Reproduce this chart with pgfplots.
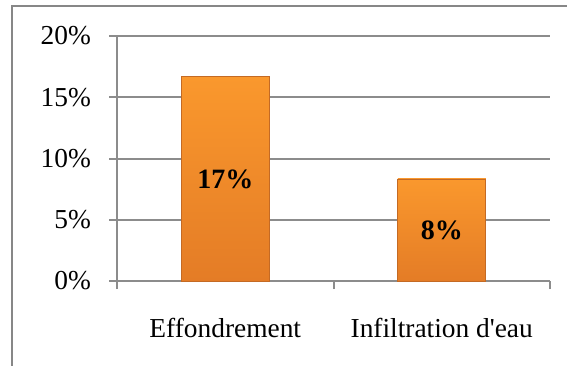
\documentclass[border=0pt]{standalone}
\usepackage{pgfplots}
\pgfplotsset{compat=1.18}
\usepackage{fontspec}
\setmainfont{Liberation Serif}
\definecolor{gridgray}{RGB}{140,140,140}
\definecolor{framegray}{RGB}{135,135,135}
\definecolor{barlight}{RGB}{250,152,45}
\definecolor{bardark}{RGB}{228,124,38}
\definecolor{baredge}{RGB}{196,106,36}

\begin{document}
\begin{tikzpicture}[x=1pt,y=1pt]
\useasboundingbox (0,0) rectangle (283.5,182.5);
% outer chart frame, cut at right and bottom as in the screenshot
\draw[framegray, line width=1.1pt] (6,-5) -- (6,179.5) -- (290,179.5);
\begin{axis}[
    at={(58.5pt,42pt)}, anchor=south west,
    scale only axis,
    width=216.5pt, height=122.5pt,
    xmin=-0.5, xmax=1.5,
    ymin=0, ymax=20,
    axis lines*=left,
    axis line style={gridgray, line width=1pt},
    ytick={0,5,10,15,20},
    yticklabel={\pgfmathprintnumber{\tick}\%},
    ymajorgrids,
    grid style={gridgray, line width=1pt},
    tick align=outside,
    tick style={gridgray, line width=1pt},
    major tick length=4pt,
    xtick={-0.5,0.5,1.5},
    xticklabels={},
    extra x ticks={0,1},
    extra x tick labels={Effondrement, Infiltration d\textquotesingle eau},
    extra x tick style={major tick length=0pt, grid=none,
        tick label style={yshift=-15pt}},
    tick label style={font=\fontsize{13.7}{16}\selectfont},
    yticklabel style={xshift=-5.5pt},
    /pgf/number format/assume math mode=true,
    clip=false,
]
\addplot[ybar, bar width=44pt, bar shift=0pt,
    top color=barlight, bottom color=bardark, draw=baredge, line width=0.4pt]
    coordinates {(0,16.67)};
\addplot[ybar, bar width=44pt, bar shift=0pt,
    top color=barlight, bottom color=bardark, draw=baredge, line width=0.4pt]
    coordinates {(1,8.33)};
% value labels in the middle of each bar
\addplot[draw=none, mark=none,
    nodes near coords, point meta=explicit symbolic,
    every node near coord/.append style={anchor=center,
        font=\fontsize{14}{16}\selectfont\bfseries}]
    table[meta=lab, y expr=\thisrow{v}/2] {
x v lab
0 16.67 17\%
1 8.33 8\%
};
\end{axis}
\end{tikzpicture}
\end{document}
